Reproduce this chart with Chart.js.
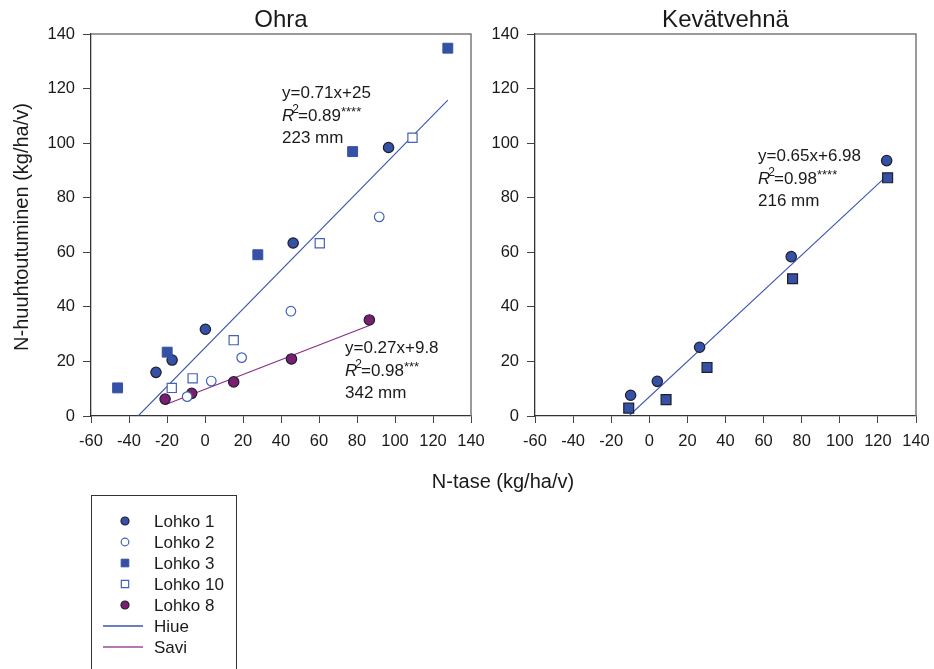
<!DOCTYPE html>
<html>
<head>
<meta charset="utf-8">
<script src="https://cdn.jsdelivr.net/npm/chart.js@4/dist/chart.umd.min.js"></script>
<style>
  html, body { margin: 0; padding: 0; background: #ffffff; }
  #wrap { position: relative; width: 934px; height: 669px; overflow: hidden; }
  #ohra { position: absolute; left: 0; top: 0; }
  #kevat { position: absolute; left: 480px; top: 0; }
</style>
</head>
<body>
<div id="wrap">
  <canvas id="ohra" width="934" height="669"></canvas>
  <canvas id="kevat" width="454" height="470"></canvas>
</div>
<script>
// ---- Data: N balance (x) vs. N leaching (y), kg/ha/v ----
const xTicks = [-60, -40, -20, 0, 20, 40, 60, 80, 100, 120, 140];
const yTicks = [0, 20, 40, 60, 80, 100, 120, 140];

// Ohra (barley)
const ohraLohko1X  = [-25.8, -17.3, 0.2, 46.4, 96.6];
const ohraLohko1Y  = [16.0, 20.5, 31.8, 63.4, 98.4];
const ohraLohko2X  = [-9.4, 3.3, 19.3, 45.2, 91.7];
const ohraLohko2Y  = [7.1, 12.8, 21.4, 38.4, 73.0];
const ohraLohko3X  = [-46.0, -19.9, 27.8, 77.7, 127.8];
const ohraLohko3Y  = [10.3, 23.4, 59.1, 96.9, 134.8];
const ohraLohko10X = [-17.5, -6.5, 15.1, 60.4, 109.2];
const ohraLohko10Y = [10.3, 13.8, 27.8, 63.3, 102.0];
const ohraLohko8X  = [-21.0, -7.0, 15.1, 45.5, 86.5];
const ohraLohko8Y  = [6.2, 8.3, 12.5, 20.9, 35.2];

// Kevätvehnä (spring wheat)
const kevatLohko1X = [-9.8, 4.2, 26.4, 74.5, 124.6];
const kevatLohko1Y = [7.6, 12.7, 25.2, 58.4, 93.6];
const kevatLohko3X = [-10.8, 8.8, 30.3, 75.2, 125.1];
const kevatLohko3Y = [2.9, 6.0, 17.8, 50.3, 87.3];

// Regression fits: [slope, intercept], drawn over the given x range
const fitHiue  = [0.71, 25];
const fitSavi  = [0.27, 9.8];
const fitKevat = [0.65, 6.98];
const rangeHiue  = [-35.2, 127.8];
const rangeSavi  = [-21.0, 86.5];
const rangeKevat = [-10.74, 123.4];

const legendLabels = ['Lohko 1', 'Lohko 2', 'Lohko 3', 'Lohko 10', 'Lohko 8', 'Hiue', 'Savi'];

// ---- Styling ----
const FONT = '"Liberation Sans", Arial, Helvetica, sans-serif';
const BLUE = '#3451a6';
const BLUE_OPEN = '#4561b8';
const BLUE_LINE = '#3a54b0';
const PURPLE = '#7a1e70';
const PURPLE_LINE = '#8a2c86';
const DARK_EDGE = '#1f1f2e';
const TEXT = '#1a1a1a';

const pts = (xs, ys) => xs.map((x, i) => ({ x: x, y: ys[i] }));
const fitPts = (fit, range) => range.map(x => ({ x: x, y: fit[0] * x + fit[1] }));

const styles = {
  lohko1:  { pointStyle: 'circle', pointRadius: 5.2, backgroundColor: BLUE,   borderColor: DARK_EDGE, borderWidth: 1.2 },
  lohko2:  { pointStyle: 'circle', pointRadius: 4.8, backgroundColor: '#ffffff', borderColor: BLUE_OPEN, borderWidth: 1.2 },
  lohko3:  { pointStyle: 'rect',   pointRadius: 7,   backgroundColor: BLUE,   borderColor: BLUE, borderWidth: 1 },
  lohko10: { pointStyle: 'rect',   pointRadius: 6.5, backgroundColor: '#ffffff', borderColor: BLUE_OPEN, borderWidth: 1.2 },
  lohko8:  { pointStyle: 'circle', pointRadius: 5.2, backgroundColor: PURPLE, borderColor: DARK_EDGE, borderWidth: 1.2 },
  lohko3k: { pointStyle: 'rect',   pointRadius: 7,   backgroundColor: BLUE,   borderColor: DARK_EDGE, borderWidth: 1.2 }
};

function scatterSet(label, data, st) {
  return Object.assign({ label: label, data: data, showLine: false, order: 1,
    pointHoverRadius: st.pointRadius }, st);
}
function lineSet(label, data, color) {
  return { label: label, data: data, showLine: true, borderColor: color, borderWidth: 1.1,
    pointRadius: 0, pointHoverRadius: 0, fill: false, order: 10, tension: 0 };
}

// Fixed axis sizes so both plot areas sit at exact positions
function axes(yWidth) {
  const tickFont = { family: FONT, size: 16.5 };
  return {
    x: {
      type: 'linear', min: -60, max: 140,
      afterBuildTicks: s => { s.ticks = xTicks.map(v => ({ value: v })); },
      afterFit: s => { s.height = 30; s.paddingLeft = 0; s.paddingRight = 0; },
      grid: { drawOnChartArea: false, drawTicks: true, tickLength: 7, color: '#444', lineWidth: 1 },
      border: { display: true, color: '#333', width: 1.3 },
      ticks: { color: TEXT, font: tickFont, padding: 9, maxRotation: 0, autoSkip: false }
    },
    y: {
      type: 'linear', min: 0, max: 140,
      afterBuildTicks: s => { s.ticks = yTicks.map(v => ({ value: v })); },
      afterFit: s => { s.width = yWidth; s.paddingTop = 0; s.paddingBottom = 0; },
      grid: { drawOnChartArea: false, drawTicks: true, tickLength: 8, color: '#444', lineWidth: 1 },
      border: { display: true, color: '#333', width: 1.3 },
      ticks: { color: TEXT, font: tickFont, padding: 8 }
    }
  };
}

// Top and right frame lines of the plot area
function drawFrame(chart) {
  const a = chart.chartArea, ctx = chart.ctx;
  ctx.save();
  ctx.strokeStyle = '#7a7a7a';
  ctx.lineWidth = 1.5;
  ctx.beginPath();
  ctx.moveTo(a.left, a.top);
  ctx.lineTo(a.right, a.top);
  ctx.lineTo(a.right, a.bottom);
  ctx.stroke();
  ctx.restore();
}

// Regression text: equation, R² with significance stars, precipitation
function drawEquation(ctx, x, y, eq, r2, stars, rain) {
  const size = 17, gap = 23;
  ctx.save();
  ctx.fillStyle = TEXT;
  ctx.textBaseline = 'middle';
  ctx.textAlign = 'left';
  ctx.font = size + 'px ' + FONT;
  ctx.fillText(eq, x, y);
  // R² line
  const y2 = y + gap;
  ctx.font = 'italic ' + size + 'px ' + FONT;
  ctx.fillText('R', x, y2);
  let cx = x + ctx.measureText('R').width - 2;
  ctx.font = '12px ' + FONT;
  ctx.fillText('2', cx, y2 - 6);
  cx += ctx.measureText('2').width - 1;
  ctx.font = size + 'px ' + FONT;
  ctx.fillText('=' + r2, cx, y2);
  cx += ctx.measureText('=' + r2).width;
  ctx.font = '13px ' + FONT;
  ctx.fillText(stars, cx, y2 - 4);
  ctx.font = size + 'px ' + FONT;
  ctx.fillText(rain, x, y + 2 * gap - 0.5);
  ctx.restore();
}

function drawMarker(ctx, st, x, y, radius) {
  ctx.save();
  ctx.fillStyle = st.backgroundColor;
  ctx.strokeStyle = st.borderColor;
  ctx.lineWidth = st.borderWidth;
  if (Chart.helpers && Chart.helpers.drawPoint) {
    Chart.helpers.drawPoint(ctx, { pointStyle: st.pointStyle, radius: radius, rotation: 0, borderWidth: st.borderWidth }, x, y);
  } else {
    ctx.beginPath();
    if (st.pointStyle === 'circle') ctx.arc(x, y, radius, 0, Math.PI * 2);
    else { const h = radius * Math.SQRT1_2; ctx.rect(x - h, y - h, 2 * h, 2 * h); }
    ctx.fill(); ctx.stroke();
  }
  ctx.restore();
}

const ohraDecor = {
  id: 'ohraDecor',
  afterDraw(chart) {
    const ctx = chart.ctx, a = chart.chartArea;
    drawFrame(chart);
    ctx.save();
    ctx.fillStyle = TEXT;
    // panel title
    ctx.font = '24px ' + FONT;
    ctx.textAlign = 'center';
    ctx.textBaseline = 'middle';
    ctx.fillText('Ohra', (a.left + a.right) / 2, 20);
    // shared x-axis title
    ctx.font = '20px ' + FONT;
    ctx.fillText('N-tase (kg/ha/v)', 503, 482);
    // y-axis title
    ctx.translate(22, (a.top + a.bottom) / 2 + 2);
    ctx.rotate(-Math.PI / 2);
    ctx.fillText('N-huuhtoutuminen (kg/ha/v)', 0, 0);
    ctx.restore();

    drawEquation(ctx, 282, 93, 'y=0.71x+25', '0.89', '****', '223 mm');
    drawEquation(ctx, 345, 348, 'y=0.27x+9.8', '0.98', '***', '342 mm');

    // legend box
    ctx.save();
    ctx.strokeStyle = '#333';
    ctx.lineWidth = 1;
    ctx.strokeRect(91.5, 495.5, 145, 200);
    ctx.restore();
    const legendStyles = [
      [styles.lohko1, 4], [styles.lohko2, 3.8], [styles.lohko3, 5.4], [styles.lohko10, 5.2], [styles.lohko8, 4]
    ];
    const rowY = [521, 542, 563, 584, 605, 626, 647];
    ctx.save();
    ctx.font = '17px ' + FONT;
    ctx.textAlign = 'left';
    ctx.textBaseline = 'middle';
    ctx.fillStyle = TEXT;
    legendLabels.forEach((lab, i) => {
      if (i < 5) {
        drawMarker(ctx, legendStyles[i][0], 125, rowY[i], legendStyles[i][1]);
      } else {
        ctx.save();
        ctx.strokeStyle = i === 5 ? BLUE_LINE : '#9a4c98';
        ctx.lineWidth = 1.3;
        ctx.beginPath();
        ctx.moveTo(103, rowY[i]);
        ctx.lineTo(143, rowY[i]);
        ctx.stroke();
        ctx.restore();
      }
      ctx.fillText(lab, 154, rowY[i] + 1);
    });
    ctx.restore();
  }
};

const kevatDecor = {
  id: 'kevatDecor',
  afterDraw(chart) {
    const ctx = chart.ctx, a = chart.chartArea;
    drawFrame(chart);
    ctx.save();
    ctx.fillStyle = TEXT;
    ctx.font = '24px ' + FONT;
    ctx.textAlign = 'center';
    ctx.textBaseline = 'middle';
    ctx.fillText('Kevätvehnä', (a.left + a.right) / 2, 20);
    ctx.restore();
    drawEquation(ctx, 758 - 480, 156, 'y=0.65x+6.98', '0.98', '****', '216 mm');
  }
};

const baseOptions = {
  responsive: false,
  animation: false,
  devicePixelRatio: 1,
  plugins: { legend: { display: false }, tooltip: { enabled: false }, title: { display: false } },
  events: []
};

new Chart(document.getElementById('ohra'), {
  type: 'scatter',
  data: {
    datasets: [
      lineSet('Hiue', fitPts(fitHiue, rangeHiue), BLUE_LINE),
      lineSet('Savi', fitPts(fitSavi, rangeSavi), PURPLE_LINE),
      scatterSet('Lohko 2', pts(ohraLohko2X, ohraLohko2Y), styles.lohko2),
      scatterSet('Lohko 10', pts(ohraLohko10X, ohraLohko10Y), styles.lohko10),
      scatterSet('Lohko 3', pts(ohraLohko3X, ohraLohko3Y), styles.lohko3),
      scatterSet('Lohko 1', pts(ohraLohko1X, ohraLohko1Y), styles.lohko1),
      scatterSet('Lohko 8', pts(ohraLohko8X, ohraLohko8Y), styles.lohko8)
    ]
  },
  options: Object.assign({}, baseOptions, {
    layout: { padding: { left: 0, top: 34, right: 934 - 471, bottom: 669 - 416 - 30 } },
    scales: axes(91)
  }),
  plugins: [ohraDecor]
});

new Chart(document.getElementById('kevat'), {
  type: 'scatter',
  data: {
    datasets: [
      lineSet('Hiue', fitPts(fitKevat, rangeKevat), BLUE_LINE),
      scatterSet('Lohko 3', pts(kevatLohko3X, kevatLohko3Y), styles.lohko3k),
      scatterSet('Lohko 1', pts(kevatLohko1X, kevatLohko1Y), styles.lohko1)
    ]
  },
  options: Object.assign({}, baseOptions, {
    layout: { padding: { left: 0, top: 34, right: 454 - 436, bottom: 470 - 416 - 30 } },
    scales: axes(55)
  }),
  plugins: [kevatDecor]
});
</script>
</body>
</html>
